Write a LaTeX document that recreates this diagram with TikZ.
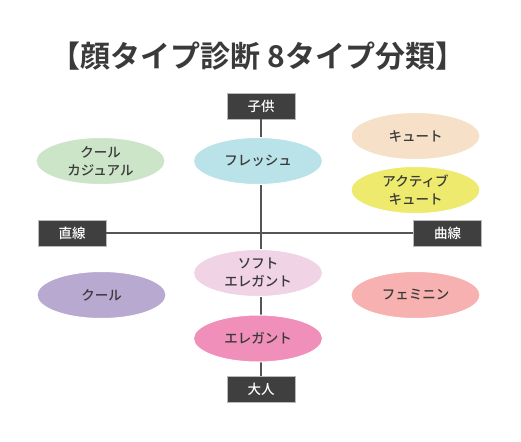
\documentclass[tikz,border=0pt]{standalone}
\usepackage{fontspec}
\usepackage{tikz}
\usetikzlibrary{shapes.geometric}
\newfontfamily\jp{Noto Sans CJK JP}
\newfontfamily\jpmed{Noto Sans CJK JP Medium}
\newfontfamily\jpbold{Noto Sans CJK JP Bold}
\definecolor{boxgray}{HTML}{3F3F3F}
\definecolor{textgray}{HTML}{3A3A3A}
\definecolor{linegray}{HTML}{555555}
\definecolor{coolcasual}{HTML}{CCE5C8}
\definecolor{fresh}{HTML}{B9E3E8}
\definecolor{cute}{HTML}{F7E0C8}
\definecolor{activecute}{HTML}{EDEA6E}
\definecolor{softelegant}{HTML}{F0D3E5}
\definecolor{cool}{HTML}{B8A9D0}
\definecolor{feminine}{HTML}{F6B1B0}
\definecolor{elegant}{HTML}{EF8FBA}

\begin{document}
\begin{tikzpicture}[x=1pt, y=-1pt,
  axisbox/.style={draw=gray!55, line width=0.8pt, fill=boxgray, text=white,
    minimum width=68pt, minimum height=26pt, inner sep=0pt, font=\jpmed\fontsize{13.5}{13.5}\selectfont},
  typeoval/.style={ellipse, draw=white, line width=1pt, minimum width=129pt, minimum height=47pt,
    inner sep=0pt, align=center, text=textgray, font=\jpmed\fontsize{13.5}{18}\selectfont}]
  \useasboundingbox (0,0) rectangle (521,441);
  % title
  \node[text=textgray, font=\jpbold\fontsize{30}{30}\selectfont] (title) at (258,56) {【顔タイプ診断 8タイプ分類】};
  % axis labels
  \node[axisbox] (child) at (261,106) {子供};
  \node[axisbox] (adult) at (261,389) {大人};
  \node[axisbox] (straight) at (72,233) {直線};
  \node[axisbox] (curve) at (447.5,233) {曲線};
  % axes
  \draw[linegray, line width=2pt] (child) -- (adult);
  \draw[linegray, line width=2pt] (straight) -- (curve);
  % the eight types
  \node[typeoval, fill=coolcasual] (coolcas) at (100.5,161) {クール\\カジュアル};
  \node[typeoval, fill=fresh] (fresh) at (258,161) {フレッシュ};
  \node[typeoval, fill=cute] (cute) at (415.5,136) {キュート};
  \node[typeoval, fill=activecute] (actcute) at (415.5,190) {アクティブ\\キュート};
  \node[typeoval, fill=softelegant] (softeleg) at (258,273) {ソフト\\エレガント};
  \node[typeoval, fill=cool] (cool) at (101.5,295) {クール};
  \node[typeoval, fill=feminine] (femin) at (415.5,295) {フェミニン};
  \node[typeoval, fill=elegant] (eleg) at (258,338.5) {エレガント};
\end{tikzpicture}
\end{document}
